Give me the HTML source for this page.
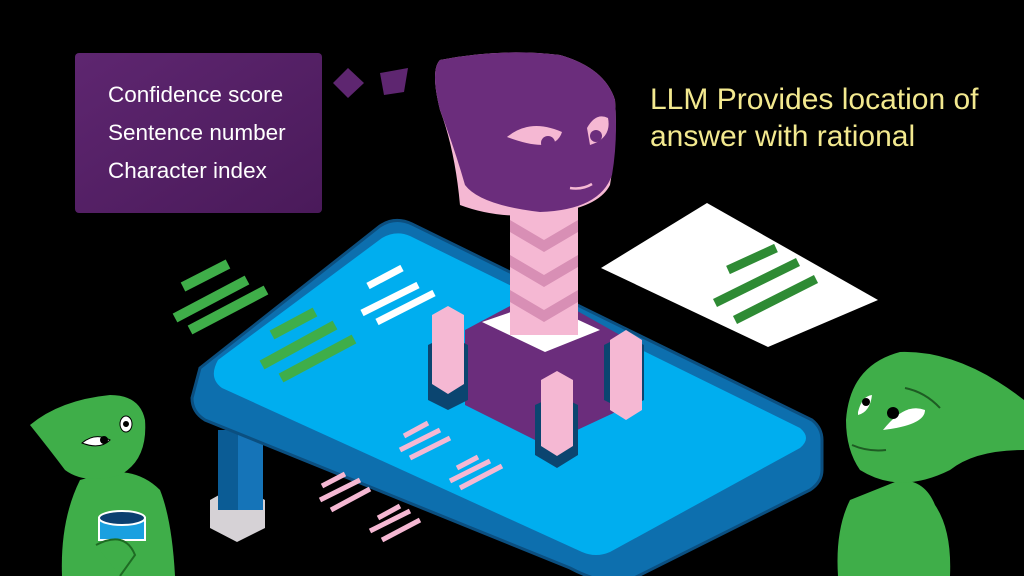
<!DOCTYPE html>
<html><head><meta charset="utf-8"><style>
html,body{margin:0;padding:0;background:#000;width:1024px;height:576px;overflow:hidden}
svg{display:block}
</style></head><body>
<svg width="1024" height="576" viewBox="0 0 1024 576" xmlns="http://www.w3.org/2000/svg">
<defs>
<linearGradient id="bx" x1="0" y1="0" x2="1" y2="1"><stop offset="0" stop-color="#5e2670"/><stop offset="1" stop-color="#4a1a5a"/></linearGradient>
</defs>
<rect width="1024" height="576" fill="#000"/>
<rect x="75" y="53" width="247" height="160" rx="4" fill="url(#bx)"/>
<g font-family="Liberation Sans, sans-serif" font-size="22.5" fill="#fff">
<text x="108" y="102">Confidence score</text>
<text x="108" y="140">Sentence number</text>
<text x="108" y="178">Character index</text>
</g>
<polygon points="333,83 348,68 364,83 348,98" fill="#5e2670"/>
<polygon points="380,73 408,68 404,92 384,95" fill="#5e2670"/>
<g font-family="Liberation Sans, sans-serif" font-size="30" fill="#f3e98f">
<text x="650" y="109">LLM Provides location of</text>
<text x="650" y="146">answer with rational</text>
</g>
<polygon points="601,268 707,203 878,300 768,347" fill="#fff"/>
<g stroke="#2e8b34" stroke-width="9">
<line x1="728" y1="270" x2="776" y2="248"/>
<line x1="715" y1="303" x2="798" y2="262"/>
<line x1="735" y1="320" x2="816" y2="279"/>
</g>
<polygon points="210,500 237,485 265,500 265,528 237,542 210,528" fill="#d6d2d6"/>
<rect x="218" y="430" width="45" height="80" fill="#0b5c95"/>
<rect x="238" y="430" width="25" height="80" fill="#1574b8"/>
<path d="M200,368 L380,226 Q395,216 412,224 L812,420 Q822,428 822,440 L822,470 Q822,482 810,490 L630,580 L600,580 Q585,576 570,568 L205,420 Q192,412 192,398 Z" fill="#0d6fae" stroke="#0b4f80" stroke-width="3"/>
<path d="M218,360 L382,238 Q396,230 410,236 L800,428 Q812,438 800,448 L610,552 Q596,558 582,552 L222,388 Q208,378 218,360 Z" fill="#00aeef"/>
<g stroke="#3fae49" stroke-width="10">
<line x1="183" y1="287" x2="228" y2="264"/>
<line x1="175" y1="318" x2="247" y2="280"/>
<line x1="190" y1="330" x2="266" y2="290"/>
<line x1="272" y1="335" x2="315" y2="312"/>
<line x1="262" y1="365" x2="335" y2="325"/>
<line x1="281" y1="378" x2="354" y2="339"/>
</g>
<g stroke="#fff" stroke-width="7">
<line x1="368" y1="286" x2="402" y2="268"/>
<line x1="362" y1="313" x2="418" y2="285"/>
<line x1="377" y1="322" x2="434" y2="293"/>
</g>
<g stroke="#f5b8d3" stroke-width="5">
<line x1="404" y1="436" x2="428" y2="423"/>
<line x1="400" y1="450" x2="440" y2="430"/>
<line x1="410" y1="458" x2="450" y2="438"/>
<line x1="457" y1="468" x2="478" y2="457"/>
<line x1="450" y1="481" x2="490" y2="461"/>
<line x1="460" y1="488" x2="502" y2="466"/>
<line x1="322" y1="486" x2="345" y2="474"/>
<line x1="320" y1="500" x2="360" y2="480"/>
<line x1="331" y1="510" x2="370" y2="489"/>
<line x1="378" y1="518" x2="400" y2="506"/>
<line x1="370" y1="531" x2="410" y2="511"/>
<line x1="382" y1="540" x2="420" y2="520"/>
</g>
<polygon points="465,330 540,290 620,335 620,410 545,445 465,405" fill="#6b2d7c"/>
<polygon points="482,322 540,302 600,330 545,352" fill="#fff"/>
<rect x="510" y="195" width="68" height="140" fill="#f5b8d3"/>
<polygon points="510,220 544,240 578,220 578,232 544,252 510,232" fill="#d88fb5"/>
<polygon points="510,255 544,275 578,255 578,267 544,287 510,267" fill="#d88fb5"/>
<polygon points="510,290 544,310 578,290 578,302 544,322 510,302" fill="#d88fb5"/>
<polygon points="428,345 448,335 468,345 468,400 448,410 428,400" fill="#0b4570"/>
<polygon points="432,315 448,306 464,315 464,384 448,394 432,384" fill="#f5b8d3"/>
<polygon points="604,345 624,335 644,345 644,400 624,410 604,400" fill="#0b4570"/>
<polygon points="610,340 626,330 642,340 642,410 626,420 610,410" fill="#f5b8d3"/>
<polygon points="535,405 557,395 578,405 578,455 557,468 535,455" fill="#0b4570"/>
<polygon points="541,380 557,371 573,380 573,446 557,456 541,446" fill="#f5b8d3"/>
<path d="M460,205 Q505,222 560,212 Q600,205 610,185 Q618,140 615,100 Q605,68 560,55 Q500,48 440,60 Q430,70 440,110 Q455,150 460,205 Z" fill="#f5b8d3"/>
<path d="M465,185 Q480,205 540,212 Q600,210 612,175 Q618,140 615,100 Q605,68 560,55 Q500,48 440,60 Q430,70 440,110 Q455,150 465,185 Z" fill="#6b2d7c"/>
<path d="M507,137 Q530,118 562,132 Q555,155 507,137 Z" fill="#f5b8d3"/>
<path d="M587,128 Q596,112 608,118 Q612,138 590,145 Z" fill="#f5b8d3"/>
<circle cx="548" cy="143" r="7" fill="#6b2d7c"/><circle cx="596" cy="136" r="6" fill="#6b2d7c"/>
<path d="M570,188 Q582,190 592,184" stroke="#f5b8d3" stroke-width="2.5" fill="none"/>
<path d="M80,480 Q60,520 62,576 L175,576 Q172,520 160,490 Q140,470 110,472 Z" fill="#3fae49"/>
<path d="M30,425 Q60,400 110,395 Q140,395 145,420 Q148,460 120,475 Q85,485 65,470 Q50,450 30,425 Z" fill="#3fae49"/>
<path d="M82,443 Q95,432 110,440 Q100,450 82,443 Z" fill="#fff" stroke="#000" stroke-width="1"/>
<circle cx="104" cy="440" r="4" fill="#000"/>
<ellipse cx="126" cy="424" rx="6" ry="8" fill="#fff" stroke="#000"/><circle cx="126" cy="424" r="3" fill="#000"/>
<rect x="99" y="518" width="46" height="22" fill="#1aa0e0" stroke="#fff" stroke-width="2"/>
<ellipse cx="122" cy="518" rx="23" ry="7" fill="#0b3f70" stroke="#fff" stroke-width="2"/>
<path d="M96,545 Q125,530 135,555 L120,576" stroke="#1e6b23" stroke-width="2" fill="#3fae49"/>
<path d="M850,500 Q835,530 838,576 L950,576 Q952,530 935,505 Q925,480 900,480 Z" fill="#3fae49"/>
<path d="M846,420 Q850,365 900,352 Q960,350 1024,400 L1024,450 Q975,450 950,470 Q900,495 860,470 Q846,450 846,420 Z" fill="#3fae49"/>
<path d="M883,430 Q905,402 925,410 Q925,425 883,430 Z" fill="#fff"/>
<circle cx="893" cy="413" r="6" fill="#000"/>
<path d="M858,412 Q862,396 872,395 Q870,412 858,415 Z" fill="#fff"/>
<circle cx="866" cy="402" r="4" fill="#000"/>
<path d="M905,388 Q925,392 940,408" stroke="#1e5c23" stroke-width="2" fill="none"/>
<path d="M852,445 Q868,452 886,450" stroke="#1e5c23" stroke-width="2" fill="none"/>
</svg>
</body></html>
